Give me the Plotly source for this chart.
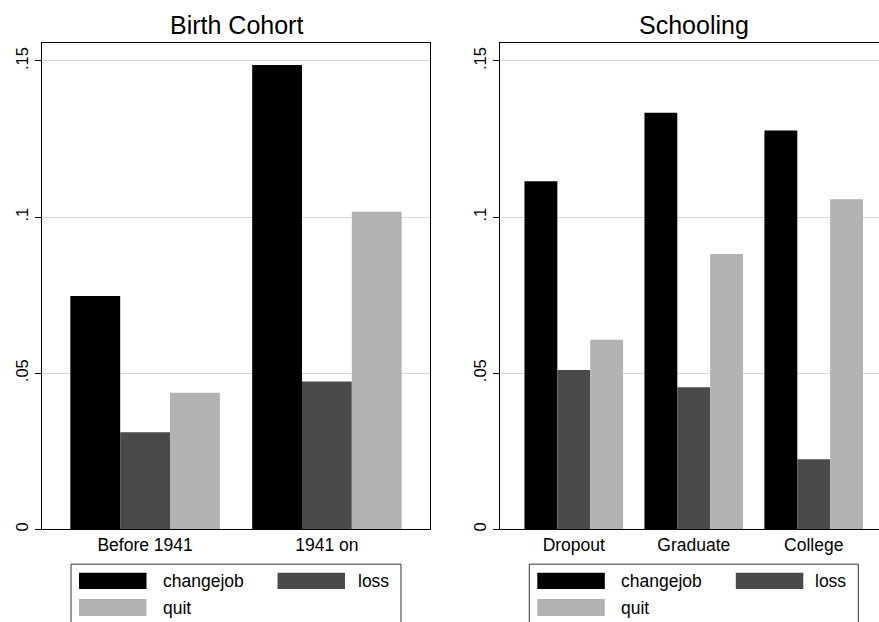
import plotly.graph_objects as go

# ---- data ----
series = ["changejob", "loss", "quit"]
colors = ["#000000", "#4a4a4a", "#b2b2b2"]

cohort_cats = ["Before 1941", "1941 on"]
cohort_changejob = [0.0747, 0.1487]
cohort_loss = [0.0311, 0.0473]
cohort_quit = [0.0437, 0.1017]

school_cats = ["Dropout", "Graduate", "College"]
school_changejob = [0.1115, 0.1334, 0.1277]
school_loss = [0.0510, 0.0455, 0.0224]
school_quit = [0.0607, 0.0882, 0.1057]

yticks = [0, 0.05, 0.10, 0.15]
yticklabels = ["0", ".05", ".1", ".15"]

W, H = 879, 622
FONT = "Liberation Sans, Arial, Helvetica, sans-serif"

def px(x):
    return x / W

def py(y):
    return 1 - y / H

fig = go.Figure()

cohort_vals = [cohort_changejob, cohort_loss, cohort_quit]
school_vals = [school_changejob, school_loss, school_quit]
for name, col, vals in zip(series, colors, cohort_vals):
    fig.add_trace(go.Bar(x=cohort_cats, y=vals, name=name, marker_color=col,
                         marker_line_width=0, xaxis="x", yaxis="y", showlegend=False))
for name, col, vals in zip(series, colors, school_vals):
    fig.add_trace(go.Bar(x=school_cats, y=vals, name=name, marker_color=col,
                         marker_line_width=0, xaxis="x2", yaxis="y2", showlegend=False))

ydom = [py(531), py(43)]
yrange = [0, 0.1558]

common_y = dict(range=yrange, domain=ydom, tickvals=yticks, ticktext=yticklabels,
                tickangle=-90, ticks="outside", ticklen=6, tickcolor="black",
                showline=True, linecolor="black", linewidth=1,
                showgrid=True, gridcolor="#d6d6d6", gridwidth=1, zeroline=False,
                tickfont=dict(size=16.5, color="black", family=FONT), fixedrange=True)
common_x = dict(type="category", showline=True, linecolor="black", linewidth=1,
                ticks="", showgrid=False, zeroline=False, mirror=True,
                tickfont=dict(size=17.5, color="black", family=FONT), fixedrange=True)

fig.update_layout(
    width=W, height=H,
    margin=dict(l=0, r=0, t=0, b=0),
    paper_bgcolor="white", plot_bgcolor="white",
    barmode="group", bargap=0.178, bargroupgap=0,
    font=dict(family=FONT, color="black"),
    showlegend=False,
    xaxis=dict(common_x, domain=[px(42), px(430)], range=[-0.567, 1.567], anchor="y"),
    yaxis=dict(common_y, anchor="x", mirror=True),
    xaxis2=dict(common_x, domain=[px(500), 1.0], range=[-0.615, 2.544], anchor="y2"),
    yaxis2=dict(common_y, anchor="x2", mirror=False),
)

annotations = [
    dict(text="Birth Cohort", x=px(236.5), y=py(25), xref="paper", yref="paper",
         xanchor="center", yanchor="middle", showarrow=False,
         font=dict(size=25, color="black", family=FONT)),
    dict(text="Schooling", x=px(693.5), y=py(25), xref="paper", yref="paper",
         xanchor="center", yanchor="middle", showarrow=False,
         font=dict(size=25, color="black", family=FONT)),
]
shapes = []

def add_legend(left, right):
    shapes.append(dict(type="rect", xref="paper", yref="paper",
                       x0=px(left), x1=px(right), y0=py(640), y1=py(566),
                       line=dict(color="#333333", width=1), fillcolor="white", layer="above"))
    sw = [(left + 8, 574.5, left + 75.5, 591, colors[0]),
          (left + 206.5, 574.5, left + 274, 591, colors[1]),
          (left + 8, 601, left + 75.5, 618, colors[2])]
    for x0, y0, x1, y1, c in sw:
        shapes.append(dict(type="rect", xref="paper", yref="paper",
                           x0=px(x0), x1=px(x1), y0=py(y1), y1=py(y0),
                           line=dict(width=0), fillcolor=c, layer="above"))
    annotations.append(dict(text=series[0], x=px(left + 90), y=py(582.5), xref="paper",
                            yref="paper", xanchor="left", yanchor="middle", showarrow=False,
                            font=dict(size=17.5, color="black", family=FONT)))
    annotations.append(dict(text=series[1], x=px(right - 10.5), y=py(582.5), xref="paper",
                            yref="paper", xanchor="right", yanchor="middle", showarrow=False,
                            font=dict(size=17.5, color="black", family=FONT)))
    annotations.append(dict(text=series[2], x=px(left + 90), y=py(609.5), xref="paper",
                            yref="paper", xanchor="left", yanchor="middle", showarrow=False,
                            font=dict(size=17.5, color="black", family=FONT)))

add_legend(71, 401)
add_legend(529.3, 858.3)

fig.update_layout(annotations=annotations, shapes=shapes)

fig.write_html("out.html", config={"displayModeBar": False},
               post_script="document.body.style.margin='0px';document.body.style.overflow='hidden';")
